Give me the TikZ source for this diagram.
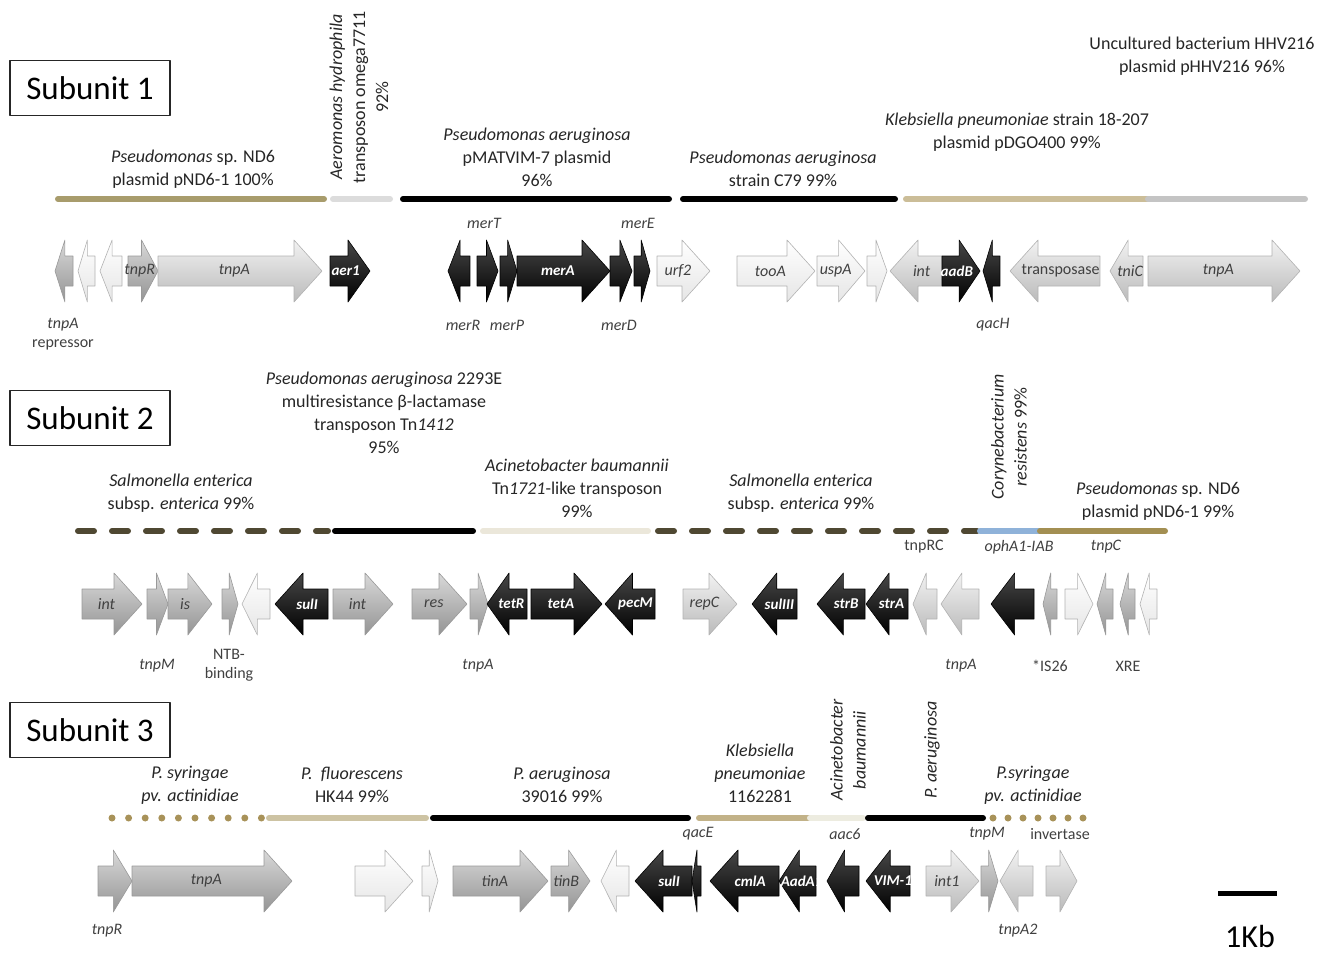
\documentclass[tikz,border=0pt]{standalone}
\usepackage{fontspec}
\setmainfont{Carlito}
\definecolor{tanA}{HTML}{A89C6C}
\definecolor{paleG}{HTML}{DCDCDC}
\definecolor{tanL}{HTML}{CBBD98}
\definecolor{grayR}{HTML}{C4C4C4}
\definecolor{oliveD}{HTML}{4F4832}
\definecolor{beigeP}{HTML}{EBE7DA}
\definecolor{skyB}{HTML}{8FB2D9}
\definecolor{tanB}{HTML}{A38F52}
\definecolor{dotT}{HTML}{A89259}
\definecolor{tanP}{HTML}{CDC3A3}
\definecolor{tanC}{HTML}{C2B288}
\definecolor{paleB}{HTML}{EDECE0}
\newcommand{\gene}[6]{%
	\pgfmathsetmacro\hl{min(28,0.55*abs(#4-#3))*sign(#4-#3)}%
	\pgfmathsetmacro\bx{#4-\hl}%
	\pgfmathsetmacro\lx{0.5*(#3+#4)-0.2*\hl}%
	\draw[#5] (#3,#2-15)--(\bx,#2-15)--(\bx,#2-31)--(#4,#2)--(\bx,#2+31)--(\bx,#2+15)--(#3,#2+15)--cycle;
	\node[#5lab] (#1) at (\lx,#2) {#6};%
}
\begin{document}
\begin{tikzpicture}[x=0.5pt, y=-0.5pt, font=\fontsize{9}{11.5}\selectfont, line join=round,
	src/.style={align=center, text=black!85},
	tag/.style={font=\fontsize{8}{9.5}\selectfont\itshape, text=black!75, align=center},
	subbox/.style={draw=black!85, line width=.6pt, minimum width=80pt, minimum height=27.5pt, font=\fontsize{16.5}{18}\selectfont},
	bar/.style={line width=3pt, line cap=round},
	blk/.style={draw=black, line width=.3pt, top color=black!72, bottom color=black},
	gry/.style={draw=black!40, line width=.3pt, top color=black!15, bottom color=black!42},
	lgt/.style={draw=black!30, line width=.3pt, top color=black!5, bottom color=black!27},
	wht/.style={draw=black!30, line width=.3pt, top color=white, bottom color=black!10},
	blklab/.style={text=white, inner sep=0pt, font=\fontsize{7.5}{9}\selectfont\bfseries\itshape},
	grylab/.style={text=black!75, inner sep=0pt, font=\fontsize{8}{9}\selectfont\itshape},
	lgtlab/.style={grylab}, whtlab/.style={grylab}]
	\useasboundingbox (0,0) rectangle (1330,954);
	% subunit 1
	\node[subbox] (sub1) at (90,88) {Subunit 1};
	\draw[bar, tanA] (58,199)--(324,199);
	\draw[bar, paleG] (333,199)--(390,199);
	\draw[bar, black] (403,199)--(669,199);
	\draw[bar, black] (683,199)--(895,199);
	\draw[bar, tanL] (906,199)--(1148,199);
	\draw[bar, grayR] (1148,199)--(1305,199);
	\node[src] (s1a) at (193,169) {\textit{Pseudomonas} sp. ND6\\plasmid pND6-1 100\%};
	\node[src, rotate=90] (s1b) at (359,97) {\textit{Aeromonas hydrophila}\\transposon omega7711\\92\%};
	\node[src] (s1c) at (537,157) {\textit{Pseudomonas aeruginosa}\\pMATVIM-7 plasmid\\96\%};
	\node[src] (s1d) at (783,169) {\textit{Pseudomonas aeruginosa}\\strain C79 99\%};
	\node[src] (s1e) at (1017,132) {\textit{Klebsiella pneumoniae} strain 18-207\\plasmid pDGO400 99\%};
	\node[src] (s1f) at (1202,56) {Uncultured bacterium HHV216\\plasmid pHHV216 96\%};
	\foreach \a/\b/\s/\t [count=\i] in {73/55/gry/{}, 95/78/wht/{}, 122/100/wht/{}, 128/158/gry/tnpR, 158/322/lgt/tnpA,
		330/370/blk/aer1, 470/448/blk/{}, 477/498/blk/{}, 500/517/blk/{}, 517/610/blk/merA, 610/632/blk/{}, 634/650/blk/{},
		657/710/wht/urf2, 737/815/wht/tooA, 817/865/wht/uspA, 867/887/wht/{}, 942/890/lgt/int, 942/980/blk/aadB,
		1000/983/blk/{}, 1100/1010/lgt/\textup{transposase}, 1143/1110/lgt/tniC, 1148/1300/lgt/tnpA}
		\gene{s1g\i}{271}{\a}{\b}{\s}{\t};
	\node[tag] (t1a) at (63,334) {tnpA\\\textup{repressor}};
	\foreach \x/\y/\t [count=\i] in {484/223/merT, 638/223/merE, 463/325/merR, 507/325/merP, 619/325/merD, 993/325/qacH}
		\node[tag] (t1\i) at (\x,\y) {\t};
	% subunit 2
	\node[subbox] (sub2) at (90,418) {Subunit 2};
	\draw[bar, oliveD, dash pattern=on 8pt off 9pt] (78,531)--(328,531);
	\draw[bar, black] (335,531)--(473,531);
	\draw[bar, beigeP] (483,531)--(648,531);
	\draw[bar, oliveD, dash pattern=on 8pt off 9pt] (658,531)--(977,531);
	\draw[bar, skyB] (980,531)--(1040,531);
	\draw[bar, tanB] (1040,531)--(1165,531);
	\node[src] (s2a) at (384,413) {\textit{Pseudomonas aeruginosa} 2293E\\multiresistance β-lactamase\\transposon Tn\textit{1412}\\95\%};
	\node[src] (s2b) at (181,493) {\textit{Salmonella enterica}\\subsp. \textit{enterica} 99\%};
	\node[src] (s2c) at (577,488) {\textit{Acinetobacter baumannii}\\Tn\textit{1721}-like transposon\\99\%};
	\node[src] (s2d) at (801,493) {\textit{Salmonella enterica}\\subsp. \textit{enterica} 99\%};
	\node[src, rotate=90] (s2e) at (1009,437) {\textit{Corynebacterium}\\\textit{resistens} 99\%};
	\node[src] (s2f) at (1158,501) {\textit{Pseudomonas} sp. ND6\\plasmid pND6-1 99\%};
	\foreach \a/\b/\s/\t [count=\i] in {82/142/gry/int, 147/168/gry/{}, 168/212/gry/is, 222/238/gry/{}, 270/242/wht/{},
		328/275/blk/sulI, 333/393/gry/int, 412/467/gry/res, 470/488/gry/{}, 527/487/blk/tetR, 531/602/blk/tetA,
		655/605/blk/pecM, 683/737/lgt/repC, 797/752/blk/sulIII, 865/817/blk/strB, 908/866/blk/strA, 937/913/lgt/{},
		979/941/lgt/{}, 1034/991/blk/{}, 1057/1043/gry/{}, 1065/1093/wht/{}, 1113/1097/gry/{}, 1135/1120/gry/{}, 1157/1140/wht/{}}
		\gene{s2g\i}{604}{\a}{\b}{\s}{\t};
	\foreach \x/\y/\t [count=\i] in {924/547/\textup{tnpRC}, 1019/547/ophA1-IAB, 1106/547/tnpC, 157/666/tnpM,
		229/665/\textup{NTB-}\\\textup{binding}, 478/666/tnpA, 961/666/tnpA, 1050/666/\textup{*IS26}, 1128/666/\textup{XRE}}
		\node[tag] (t2\i) at (\x,\y) {\t};
	% subunit 3
	\node[subbox] (sub3) at (90,730) {Subunit 3};
	\draw[bar, dotT, line width=3.5pt, dash pattern=on 0pt off 8.3pt] (112,818)--(264,818);
	\draw[bar, tanP] (269,818)--(426,818);
	\draw[bar, black] (433,818)--(688,818);
	\draw[bar, tanC] (699,818)--(810,818);
	\draw[bar, paleB] (810,818)--(863,818);
	\draw[bar, black] (868,818)--(983,818);
	\draw[bar, dotT, line width=3.5pt, dash pattern=on 0pt off 7.5pt] (993,818)--(1098,818);
	\node[src] (s3a) at (190,785) {\textit{P. syringae}\\\textit{pv. actinidiae}};
	\node[src] (s3b) at (352,785) {\textit{P.\ \ fluorescens}\\HK44 99\%};
	\node[src] (s3c) at (562,785) {\textit{P. aeruginosa}\\39016 99\%};
	\node[src] (s3d) at (760,773) {\textit{Klebsiella}\\\textit{pneumoniae}\\1162281};
	\node[src, rotate=90] (s3e) at (848,750) {\textit{Acinetobacter}\\\textit{baumannii}};
	\node[src, rotate=90] (s3f) at (932,750) {\textit{P. aeruginosa}};
	\node[src] (s3g) at (1033,785) {\textit{P.syringae}\\\textit{pv. actinidiae}};
	\foreach \a/\b/\s/\t [count=\i] in {98/132/gry/{}, 132/292/gry/tnpA, 355/413/wht/{}, 422/438/wht/{}, 453/548/gry/tinA,
		551/590/gry/tinB, 629/601/wht/{}, 692/635/blk/sulI, 701/692/blk/{}, 779/710/blk/cmlA, 816/779/blk/AadA1,
		859/827/blk/{}, 910/866/blk/VIM-1, 926/979/lgt/int1, 981/998/gry/{}, 1033/1000/lgt/{}, 1046/1077/lgt/{}}
		\gene{s3g\i}{881}{\a}{\b}{\s}{\t};
	\foreach \x/\y/\t [count=\i] in {698/834/qacE, 845/834/aac6, 987/834/tnpM, 1060/834/\textup{invertase}, 107/931/tnpR, 1018/931/tnpA2}
		\node[tag] (t3\i) at (\x,\y) {\t};
	% scale
	\path (1218,893) coordinate (k0) (1277,893) coordinate (k1);
	\draw[line width=2.5pt] (k0)--(k1);
	\node[font=\fontsize{16}{18}\selectfont, inner sep=0pt] (kb) at (1250,936) {1Kb};
\end{tikzpicture}
\end{document}
